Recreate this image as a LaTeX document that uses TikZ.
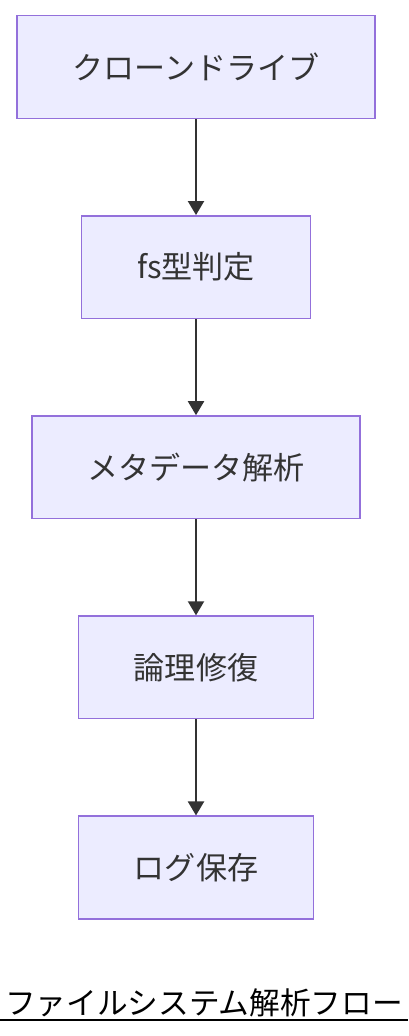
\documentclass[tikz,border=0pt]{standalone}
\usepackage{fontspec}
\newfontfamily\jpfont{Noto Sans CJK JP}
\usetikzlibrary{positioning,arrows.meta}
\definecolor{boxfill}{HTML}{ECECFF}
\definecolor{boxline}{HTML}{9370DB}
\definecolor{arrowcol}{HTML}{333333}
\tikzset{
  stepbox/.style={draw=boxline,fill=boxfill,line width=1.1pt,inner xsep=41.6pt,
    minimum height=77pt,text=arrowcol,font=\jpfont\fontsize{23.3pt}{28pt}\selectfont},
  flow/.style={->,draw=arrowcol,line width=1.5pt}
}
\begin{document}
\begin{tikzpicture}[>={Triangle[width=12pt,length=10.5pt]},x=0.75pt,y=0.75pt,node distance=72pt]
\def\W{408} \def\H{1036} % Kich thuoc
\useasboundingbox (0,0) rectangle (\W,-\H);
\node[stepbox] (clone) at (196,-67) {クローンドライブ};
\node[stepbox,below=of clone] (fstype) {fs型判定};
\node[stepbox,below=of fstype] (meta) {メタデータ解析};
\node[stepbox,below=of meta] (repair) {論理修復};
\node[stepbox,below=of repair] (save) {ログ保存};
\foreach \s/\t in {clone/fstype,fstype/meta,meta/repair,repair/save}
  \draw[flow] (\s) -- (\t);
\node[font=\jpfont\fontsize{23pt}{28pt}\selectfont,inner sep=0pt] (title) at (204,-1003) {ファイルシステム解析フロー};
\draw[line width=1.5pt] (0,-1020) -- (\W,-1020);
\end{tikzpicture}
\end{document}
